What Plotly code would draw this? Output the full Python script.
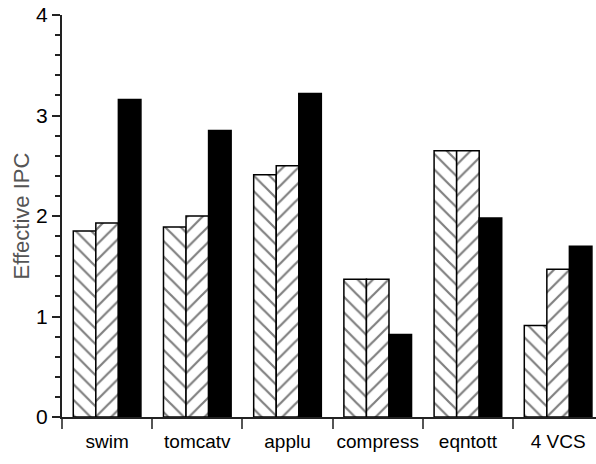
import plotly.graph_objs as go

categories = ['swim', 'tomcatv', 'applu', 'compress', 'eqntott', '4 VCS']
series_a = [1.85, 1.89, 2.41, 1.37, 2.65, 0.91]
series_b = [1.93, 2.00, 2.50, 1.37, 2.65, 1.47]
series_c = [3.16, 2.85, 3.22, 0.82, 1.98, 1.70]

line = dict(color='black', width=1.5)

trace_a = go.Bar(x=categories, y=series_a, name='a',
                 marker=dict(color='white', line=line,
                             pattern=dict(shape='\\', fgcolor='black', bgcolor='white', size=11, solidity=0.2)))
trace_b = go.Bar(x=categories, y=series_b, name='b',
                 marker=dict(color='white', line=line,
                             pattern=dict(shape='/', fgcolor='black', bgcolor='white', size=11, solidity=0.2)))
trace_c = go.Bar(x=categories, y=series_c, name='c',
                 marker=dict(color='black', line=line))

layout = go.Layout(
    width=596, height=464,
    margin=dict(l=62, r=0, t=15, b=47),
    paper_bgcolor='white', plot_bgcolor='white',
    barmode='group', bargap=0.25, bargroupgap=0,
    showlegend=False,
    font=dict(family='Liberation Sans, Arial', size=19, color='black'),
    xaxis=dict(type='category', range=[-0.5, 5.42], tickson='boundaries', automargin=False,
               tickangle=0, ticklabelstandoff=6,
               ticks='outside', ticklen=10, tickwidth=1.5, tickcolor='#555',
               showline=True, linecolor='#222', linewidth=2,
               showgrid=False, zeroline=False,
               tickfont=dict(size=19)),
    yaxis=dict(range=[0, 4], dtick=1, automargin=False, ticklabeloverflow='allow',
               ticks='outside', ticklen=8, tickwidth=1.5, tickcolor='#222',
               minor=dict(dtick=0.2, ticks='outside', ticklen=5, tickwidth=1.5, tickcolor='#222'),
               showline=True, linecolor='#222', linewidth=2,
               showgrid=False, zeroline=False,
               tickfont=dict(size=21),
               title=dict(text='Effective IPC', font=dict(size=22, color='#555'), standoff=0)),
)

fig = go.Figure(data=[trace_a, trace_b, trace_c], layout=layout)
# drop the default 8px body margin so the figure sits at the page corner
fig.write_html("out.html", config={'displayModeBar': False},
               post_script="document.body.style.margin = '0';")
